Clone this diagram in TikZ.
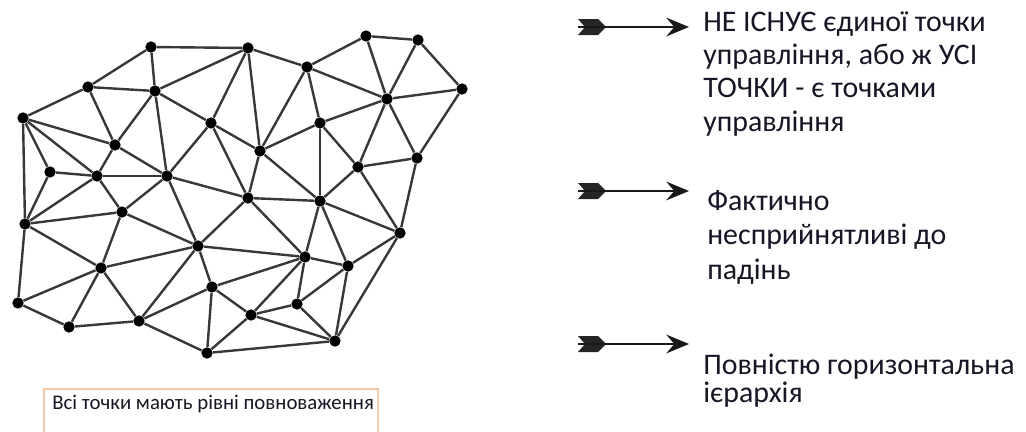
\documentclass[tikz,border=0pt]{standalone}
\usepackage{fontspec}
\setmainfont{Carlito}
\usetikzlibrary{arrows.meta}

\definecolor{ink}{RGB}{22,22,38}
\definecolor{peach}{RGB}{246,200,170}

\begin{document}
\begin{tikzpicture}[x=0.75pt,y=-0.75pt,
    every edge/.style={draw,line width=1.8pt,black!78},
    dot/.style={circle,fill=black,inner sep=0pt,minimum size=8.5pt},
    note/.style={anchor=north west,inner sep=0pt,align=left,text=ink},
    pointer/.style={-{Stealth[length=17pt,width=14pt,inset=6pt]},line width=2.2pt,black!90},
    fletch/.style={fill=black!85}]

    \useasboundingbox (0,0) rectangle (1026,432);

    % mesh
    \node[dot] (1) at (151,47) {};
    \node[dot] (2) at (248,48) {};
    \node[dot] (3) at (366,36) {};
    \node[dot] (4) at (418,40) {};
    \node[dot] (5) at (462,89) {};
    \node[dot] (6) at (88,87) {};
    \node[dot] (7) at (155,91) {};
    \node[dot] (8) at (307,67) {};
    \node[dot] (9) at (23,118) {};
    \node[dot] (10) at (211,123) {};
    \node[dot] (11) at (387,99) {};
    \node[dot] (12) at (320,123) {};
    \node[dot] (13) at (115,145) {};
    \node[dot] (14) at (260,151) {};
    \node[dot] (15) at (358,167) {};
    \node[dot] (16) at (417,158) {};
    \node[dot] (17) at (50,172) {};
    \node[dot] (18) at (97,176) {};
    \node[dot] (19) at (167,176) {};
    \node[dot] (20) at (248,198) {};
    \node[dot] (21) at (320,201) {};
    \node[dot] (22) at (122,212) {};
    \node[dot] (23) at (25,224) {};
    \node[dot] (24) at (400,233) {};
    \node[dot] (25) at (198,246) {};
    \node[dot] (26) at (305,257) {};
    \node[dot] (27) at (348,266) {};
    \node[dot] (28) at (101,268) {};
    \node[dot] (29) at (212,287) {};
    \node[dot] (30) at (18,303) {};
    \node[dot] (31) at (297,304) {};
    \node[dot] (32) at (251,315) {};
    \node[dot] (33) at (139,321) {};
    \node[dot] (34) at (69,327) {};
    \node[dot] (35) at (335,341) {};
    \node[dot] (36) at (207,353) {};

    \path
        (1) edge (2) (1) edge (6) (1) edge (7)
        (2) edge (7) (2) edge (10) (2) edge (8) (2) edge (14)
        (3) edge (8) (3) edge (4) (3) edge (11)
        (4) edge (11) (4) edge (5)
        (5) edge (11) (5) edge (16)
        (6) edge (9) (6) edge (7) (6) edge (13)
        (7) edge (13) (7) edge (10) (7) edge (19)
        (8) edge (11) (8) edge (12) (8) edge (14)
        (9) edge (13) (9) edge (18) (9) edge (17) (9) edge (23)
        (10) edge (19) (10) edge (14) (10) edge (20)
        (11) edge (12) (11) edge (15) (11) edge (16)
        (12) edge (14) (12) edge (15) (12) edge (21)
        (13) edge (18) (13) edge (19)
        (14) edge (20) (14) edge (21)
        (15) edge (16) (15) edge (21) (15) edge (24)
        (16) edge (24)
        (17) edge (18) (17) edge (23)
        (18) edge (19) (18) edge (23) (18) edge (22)
        (19) edge (22) (19) edge (25) (19) edge (20)
        (20) edge (21) (20) edge (25) (20) edge (26)
        (21) edge (26) (21) edge (27) (21) edge (24)
        (22) edge (23) (22) edge (28) (22) edge (25)
        (23) edge (28) (23) edge (30)
        (24) edge (27) (24) edge (35)
        (25) edge (28) (25) edge (33) (25) edge (29) (25) edge (26)
        (26) edge (29) (26) edge (32) (26) edge (31) (26) edge (27)
        (27) edge (31) (27) edge (35)
        (28) edge (30) (28) edge (34) (28) edge (33)
        (29) edge (33) (29) edge (36) (29) edge (32)
        (30) edge (34)
        (31) edge (32) (31) edge (35)
        (32) edge (35) (32) edge (36)
        (33) edge (34) (33) edge (36)
        (35) edge (36);

    % caption box
    \draw[peach,line width=0.8pt] (44,432) -- (44,389) -- (378,389) -- (378,432);
    \node[note,font=\fontsize{15.6}{18}\selectfont] (caption) at (52,395)
        {Всі точки мають рівні повноваження};

    % arrows
    \coordinate (tail1) at (578,27);
    \coordinate (tip1) at (689,27);
    \coordinate (tail2) at (578,191);
    \coordinate (tip2) at (689,191);
    \coordinate (tail3) at (578,344);
    \coordinate (tip3) at (689,344);

    \fill[fletch] (tail1) ++(0,-8) -- ++(20,0) -- ++(8,8) -- ++(-8,8) -- ++(-20,0) -- ++(7,-8) -- cycle;
    \fill[fletch] (tail2) ++(0,-8) -- ++(20,0) -- ++(8,8) -- ++(-8,8) -- ++(-20,0) -- ++(7,-8) -- cycle;
    \fill[fletch] (tail3) ++(0,-8) -- ++(20,0) -- ++(8,8) -- ++(-8,8) -- ++(-20,0) -- ++(7,-8) -- cycle;
    \draw[pointer] (tail1) -- (tip1);
    \draw[pointer] (tail2) -- (tip2);
    \draw[pointer] (tail3) -- (tip3);

    % texts
    \node[note,font=\fontsize{22.4}{25}\selectfont] (point1) at (703,11)
        {НЕ ІСНУЄ єдиної точки\\управління, або ж УСІ\\ТОЧКИ - є точками\\управління};
    \node[note,font=\fontsize{22.4}{26}\selectfont] (point2) at (707,190)
        {Фактично\\несприйнятливі до\\падінь};
    \node[note,font=\fontsize{22.4}{21}\selectfont] (point3) at (703,354)
        {Повністю горизонтальна\\ієрархія};
\end{tikzpicture}
\end{document}
